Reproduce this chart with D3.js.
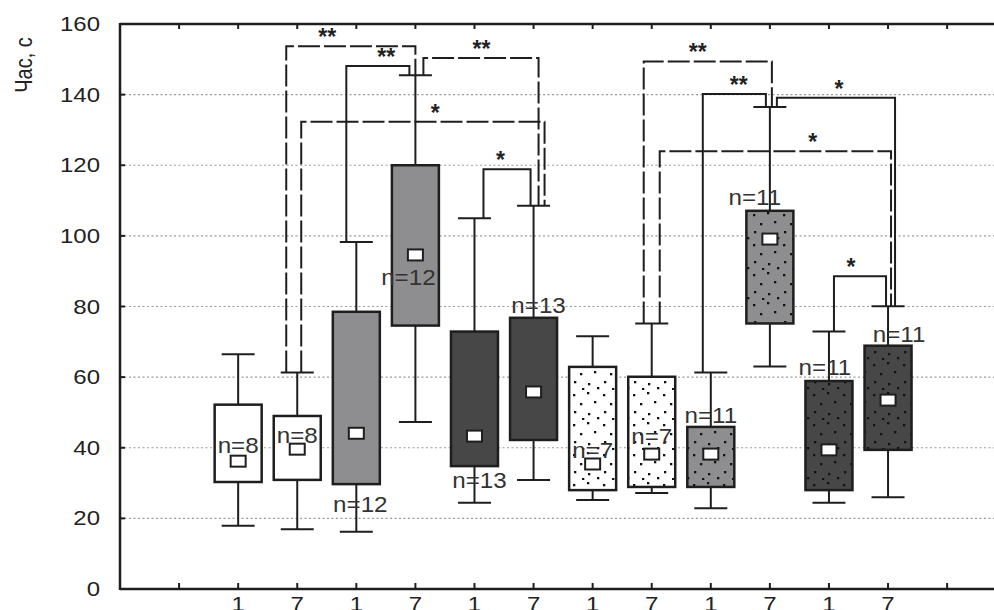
<!DOCTYPE html>
<html><head><meta charset="utf-8">
<script src="https://cdnjs.cloudflare.com/ajax/libs/d3/7.8.5/d3.min.js"></script>
<style>body{margin:0;background:#fff}svg{display:block}</style>
</head><body><svg id="c" width="994" height="610"></svg>
<script>
// ---- data ----
const categories = ["1","7","1","7","1","7","1","7","1","7","1","7"];
const fillKinds = ["white","white","gray","gray","dark","dark","whiteDots","whiteDots","grayDots","grayDots","darkDots","darkDots"];
const whiskerLow  = [17.9,16.9,16.2,47.3,24.4,30.9,25.2,27.2,22.9,63.0,24.4,26.0];
const q1          = [30.3,30.9,29.7,74.6,34.8,42.2,28.0,28.9,28.9,75.2,28.0,39.4];
const centerVal   = [36.2,39.6,44.1,94.6,43.3,55.8,35.4,38.2,38.2,99.1,39.4,53.5];
const q3          = [52.2,49.0,78.5,120.0,72.9,76.8,62.9,60.1,45.9,107.1,58.9,68.9];
const whiskerHigh = [66.5,61.3,98.3,145.5,105.0,108.5,71.6,75.2,61.3,136.5,72.9,80.1];
const nValues     = [8,8,12,12,13,13,7,7,11,11,11,11];
const yTicks = [0,20,40,60,80,100,120,140,160];
const yTitle = "Час, с";

// significance brackets (category positions 1..12)
const bracketFrom   = [2,3,4,2,5,8,9,10,8,11];
const bracketTo     = [4,4,6,6,6,10,10,12,12,12];
const bracketLevel  = [153.7,148.1,150.4,132.3,118.9,149.4,140.2,139.1,124.0,88.6];
const bracketLabels = ["**","**","**","*","*","**","**","*","*","*"];
const bracketDashed = [true,false,true,true,false,true,false,false,true,false];

// ---- layout (style only) ----
const fromDx  = [-11,-10,8,4,9,-8,-8,7,8,5];
const toDx    = [0,-6,5,11,-3,2,-4,7,3,-2];
const labelDx = [41,40,58,134,17,54,36,62,153,17];
const nLabelY = [40.8,43.6,24.2,88.4,31.0,80.3,39.4,43.3,49.3,111.0,63.0,72.1];
const nLabelDx= [0,0,4,-7,5,5,0,0,0,-15,-4,11];

const svg = d3.select("#c");
const L = 120, T = 24, B = 589, step = 59.08;
const x = d3.scaleLinear().domain([-1, 15]).range([L, L + 16*step]);
const y = d3.scaleLinear().domain([0,160]).range([B, T]);
const W = 994;
const ink = "#1e1e1e";

// patterns
const defs = svg.append("defs");
const bg = {white:"#ffffff", gray:"#8e8e90", dark:"#474747"};
const dotsPos = [[3,4],[17,2],[10,13],[24,11],[4,21],[18,23],[27,27],[12,28]];
["white","gray","dark"].forEach(k=>{
  const p = defs.append("pattern").attr("id","p"+k).attr("patternUnits","userSpaceOnUse")
    .attr("width",30).attr("height",30);
  p.append("rect").attr("width",30).attr("height",30).attr("fill",bg[k]);
  p.selectAll("rect.d").data(dotsPos).join("rect").attr("class","d")
    .attr("x",d=>d[0]).attr("y",d=>d[1]).attr("width",2.3).attr("height",2.3).attr("fill","#111");
});
const fillOf = k => k==="white"?bg.white : k==="gray"?bg.gray : k==="dark"?bg.dark : "url(#p"+k.replace("Dots","")+")";

// gridlines
svg.append("g").selectAll("line").data(yTicks.filter(v=>v>0 && v<160)).join("line")
  .attr("x1",L).attr("x2",W).attr("y1",d=>y(d)).attr("y2",d=>y(d))
  .attr("stroke","#9a9a9a").attr("stroke-width",1.2).attr("stroke-dasharray","2,2.5");

// frame
svg.append("line").attr("x1",L).attr("x2",W).attr("y1",T).attr("y2",T).attr("stroke",ink).attr("stroke-width",2.5);
svg.append("line").attr("x1",L).attr("x2",W).attr("y1",B).attr("y2",B).attr("stroke",ink).attr("stroke-width",2.5);
svg.append("line").attr("x1",L).attr("x2",L).attr("y1",T-1).attr("y2",B+1).attr("stroke",ink).attr("stroke-width",2.5);

// y ticks + labels
svg.append("g").selectAll("line").data(yTicks).join("line")
  .attr("x1",L).attr("x2",L+5).attr("y1",d=>y(d)).attr("y2",d=>y(d)).attr("stroke",ink).attr("stroke-width",2);
svg.append("g").selectAll("text").data(yTicks).join("text")
  .attr("transform",d=>`translate(100,${y(d)+7}) scale(1.2,1)`)
  .attr("text-anchor","end").attr("font-family","Liberation Sans, Arial, sans-serif")
  .attr("font-size",20).attr("fill","#222").text(d=>d);

// x ticks (top & bottom) and labels
const tickIdx = d3.range(0,14);
svg.append("g").selectAll("line").data(tickIdx).join("line")
  .attr("x1",d=>x(d)).attr("x2",d=>x(d)).attr("y1",B).attr("y2",B-6).attr("stroke",ink).attr("stroke-width",2);
svg.append("g").selectAll("line").data(tickIdx).join("line")
  .attr("x1",d=>x(d)).attr("x2",d=>x(d)).attr("y1",T).attr("y2",T+5).attr("stroke",ink).attr("stroke-width",2);
svg.append("g").selectAll("text").data(categories).join("text")
  .attr("transform",(d,i)=>`translate(${x(i+1)},611) scale(1.2,1)`)
  .attr("text-anchor","middle").attr("font-family","Liberation Sans, Arial, sans-serif")
  .attr("font-size",20).attr("fill","#222").text(d=>d);

// y title
svg.append("text").attr("transform","translate(32,65) rotate(-90) scale(1,1.2)")
  .attr("text-anchor","middle").attr("font-family","Liberation Sans, Arial, sans-serif")
  .attr("font-size",20).attr("fill","#222").text(yTitle);

// boxes
const bw = 47, cw = 33;
const g = svg.append("g");
categories.forEach((c,i)=>{
  const cx = x(i+1);
  const gg = g.append("g");
  gg.append("line").attr("x1",cx).attr("x2",cx).attr("y1",y(q3[i])).attr("y2",y(whiskerHigh[i])).attr("stroke",ink).attr("stroke-width",2);
  gg.append("line").attr("x1",cx).attr("x2",cx).attr("y1",y(q1[i])).attr("y2",y(whiskerLow[i])).attr("stroke",ink).attr("stroke-width",2);
  gg.append("line").attr("x1",cx-cw/2).attr("x2",cx+cw/2).attr("y1",y(whiskerHigh[i])).attr("y2",y(whiskerHigh[i])).attr("stroke",ink).attr("stroke-width",2);
  gg.append("line").attr("x1",cx-cw/2).attr("x2",cx+cw/2).attr("y1",y(whiskerLow[i])).attr("y2",y(whiskerLow[i])).attr("stroke",ink).attr("stroke-width",2);
  gg.append("rect").attr("x",cx-bw/2).attr("y",y(q3[i])).attr("width",bw).attr("height",y(q1[i])-y(q3[i]))
    .attr("fill",fillOf(fillKinds[i])).attr("stroke",ink).attr("stroke-width",2.5);
  gg.append("rect").attr("x",cx-7.5).attr("y",y(centerVal[i])-5.5).attr("width",15).attr("height",11)
    .attr("fill","#fff").attr("stroke",ink).attr("stroke-width",2);
});

// brackets
const bg2 = svg.append("g");
bracketFrom.forEach((f,i)=>{
  const t = bracketTo[i];
  const x1 = x(f)+fromDx[i], x2 = x(t)+toDx[i];
  const yl = y(bracketLevel[i]);
  bg2.append("path")
    .attr("d",`M${x1},${y(whiskerHigh[f-1])}V${yl}H${x2}V${y(whiskerHigh[t-1])}`)
    .attr("fill","none").attr("stroke",ink).attr("stroke-width",2)
    .attr("stroke-dasharray",bracketDashed[i]?"22,4":null);
  bg2.append("text").attr("x",x1+labelDx[i]).attr("y",yl-1)
    .attr("text-anchor","middle").attr("font-family","Liberation Sans, Arial, sans-serif")
    .attr("font-size",23).attr("font-weight","bold").attr("fill","#222").text(bracketLabels[i]);
});

// n labels
svg.append("g").selectAll("text").data(nValues).join("text")
  .attr("transform",(d,i)=>`translate(${x(i+1)+nLabelDx[i]},${y(nLabelY[i])+8}) scale(1.1,1)`)
  .attr("text-anchor","middle").attr("font-family","Liberation Sans, Arial, sans-serif")
  .attr("font-size",22).attr("fill","#333").text(d=>"n="+d);
</script></body></html>
